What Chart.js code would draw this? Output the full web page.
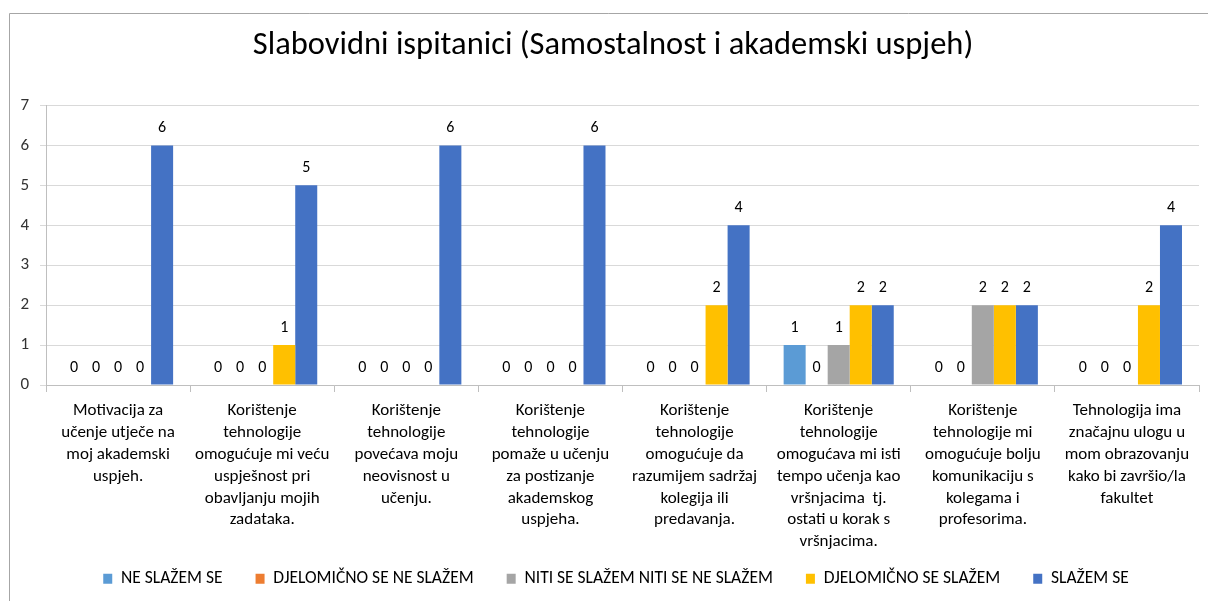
<!DOCTYPE html>
<html>
<head>
<meta charset="utf-8">
<script src="https://cdn.jsdelivr.net/npm/chart.js@4/dist/chart.umd.min.js"></script>
<style>
  html, body { margin: 0; padding: 0; background: #fff; }
  canvas { display: block; }
</style>
</head>
<body>
<canvas id="c" width="1208" height="601"></canvas>
<script>
const TITLE = "Slabovidni ispitanici (Samostalnost i akademski uspjeh)";
const categories = [
  ["Motivacija za", "učenje utječe na", "moj akademski", "uspjeh."],
  ["Korištenje", "tehnologije", "omogućuje mi veću", "uspješnost pri", "obavljanju mojih", "zadataka."],
  ["Korištenje", "tehnologije", "povećava moju", "neovisnost u", "učenju."],
  ["Korištenje", "tehnologije", "pomaže u učenju", "za postizanje", "akademskog", "uspjeha."],
  ["Korištenje", "tehnologije", "omogućuje da", "razumijem sadržaj", "kolegija ili", "predavanja."],
  ["Korištenje", "tehnologije", "omogućava mi isti", "tempo učenja kao", "vršnjacima  tj.", "ostati u korak s", "vršnjacima."],
  ["Korištenje", "tehnologije mi", "omogućuje bolju", "komunikaciju s", "kolegama i", "profesorima."],
  ["Tehnologija ima", "značajnu ulogu u", "mom obrazovanju", "kako bi završio/la", "fakultet"]
];
const seriesNames = ["NE SLAŽEM SE", "DJELOMIČNO SE NE SLAŽEM", "NITI SE SLAŽEM NITI SE NE SLAŽEM", "DJELOMIČNO SE SLAŽEM", "SLAŽEM SE"];
const neSlazem = [0, 0, 0, 0, 0, 1, 0, 0];
const djelomicnoNeSlazem = [0, 0, 0, 0, 0, 0, 0, 0];
const nitiNiti = [0, 0, 0, 0, 0, 1, 2, 0];
const djelomicnoSlazem = [0, 1, 0, 0, 2, 2, 2, 2];
const slazem = [6, 5, 6, 6, 4, 2, 2, 4];
const yTicks = [0, 1, 2, 3, 4, 5, 6, 7];

const seriesValues = [neSlazem, djelomicnoNeSlazem, nitiNiti, djelomicnoSlazem, slazem];
const seriesColors = ["#5B9BD5", "#ED7D31", "#A5A5A5", "#FFC000", "#4472C4"];

const FONT = "Carlito, Lato, 'Open Sans', sans-serif";

const framePlugin = {
  id: 'frame',
  beforeDraw(chart) {
    const ctx = chart.ctx;
    ctx.save();
    ctx.fillStyle = '#fff';
    ctx.fillRect(0, 0, chart.width, chart.height);
    ctx.strokeStyle = '#a6a6a6';
    ctx.lineWidth = 1;
    ctx.beginPath();
    ctx.moveTo(9.5, chart.height);
    ctx.lineTo(9.5, 13.5);
    ctx.lineTo(chart.width, 13.5);
    ctx.stroke();
    ctx.restore();
  }
};

// nudge the legend row and the title to sit where the reference puts them
const boxShift = {
  id: 'boxShift',
  afterLayout(chart) {
    const lg = chart.legend;
    if (lg) {
      lg.top -= 18;           // move the row up, keep the box bottom (no clipping)
      lg.left += 12; lg.right += 12;
    }
    const tb = chart.titleBlock;
    if (tb) {
      tb.left += 9; tb.right += 9;
    }
  }
};

const valueLabels = {
  id: 'valueLabels',
  afterDatasetsDraw(chart) {
    const ctx = chart.ctx;
    ctx.save();
    ctx.font = "16px " + FONT;
    ctx.fillStyle = '#000';
    ctx.textAlign = 'center';
    ctx.textBaseline = 'middle';
    chart.data.datasets.forEach((ds, i) => {
      const meta = chart.getDatasetMeta(i);
      meta.data.forEach((el, j) => {
        ctx.fillText(String(ds.data[j]), el.x, el.y - 17);
      });
    });
    ctx.restore();
  }
};

new Chart(document.getElementById('c'), {
  type: 'bar',
  data: {
    labels: categories,
    datasets: seriesNames.map((name, i) => ({
      label: name,
      data: seriesValues[i],
      backgroundColor: seriesColors[i],
      borderWidth: 0,
      categoryPercentage: 0.764,
      barPercentage: 1.0
    }))
  },
  options: {
    responsive: false,
    animation: false,
    devicePixelRatio: 1,
    layout: { padding: { top: 14, left: 9, right: 9, bottom: 4 } },
    plugins: {
      title: {
        display: true,
        text: TITLE,
        color: '#000',
        font: { family: FONT, size: 32.5, weight: 'normal', lineHeight: 1.2 },
        padding: { top: 12.3, bottom: 40.2 }
      },
      legend: {
        position: 'bottom',
        maxHeight: 42,
        labels: {
          boxWidth: 9,
          boxHeight: 10,
          padding: 33,
          color: '#000',
          font: { family: FONT, size: 17.5 }
        }
      },
      tooltip: { enabled: false }
    },
    scales: {
      x: {
        afterFit(s) { s.height = 170; },
        grid: {
          drawOnChartArea: false,
          drawTicks: true,
          tickLength: 7,
          color: '#bfbfbf'
        },
        border: { color: '#bfbfbf' },
        ticks: {
          maxRotation: 0,
          autoSkip: false,
          padding: 8,
          color: '#000',
          font: { family: FONT, size: 17, lineHeight: 1.285 }
        }
      },
      y: {
        min: 0,
        max: 7,
        afterFit(s) { s.width = 37; },
        afterBuildTicks(s) { s.ticks = yTicks.map(v => ({ value: v })); },
        grid: { color: '#d9d9d9', tickLength: 6 },
        border: { color: '#bfbfbf' },
        ticks: {
          padding: 11,
          color: '#333',
          font: { family: FONT, size: 17 }
        }
      }
    }
  },
  plugins: [framePlugin, boxShift, valueLabels]
});
</script>
</body>
</html>
